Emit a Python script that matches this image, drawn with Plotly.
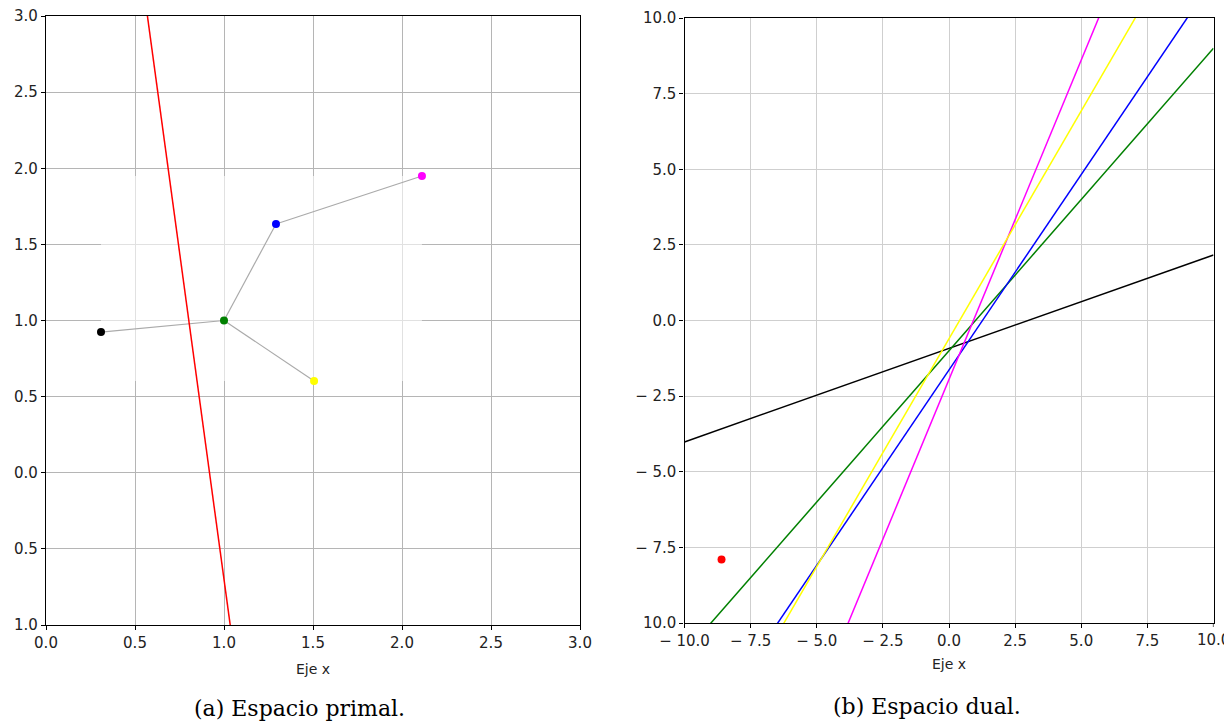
import plotly.graph_objects as go

# ---- data ----
point_names = ["black", "green", "blue", "magenta", "yellow"]
point_x = [0.309, 1.0, 1.292, 2.112, 1.506]
point_y = [0.924, 1.0, 1.634, 1.949, 0.603]
point_colors = ["black", "green", "blue", "magenta", "yellow"]
edges = [(0, 1), (1, 2), (2, 3), (1, 4)]

red_dual_x = [-8.6]
red_dual_y = [-7.9]

primal_line_x = [0.0, 3.0]
dual_line_x = [-10.0, 10.0]

left_x_ticks = [0.0, 0.5, 1.0, 1.5, 2.0, 2.5, 3.0]
left_x_text = ["0.0", "0.5", "1.0", "1.5", "2.0", "2.5", "3.0"]
left_y_ticks = [3.0, 2.5, 2.0, 1.5, 1.0, 0.5, 0.0, -0.5, -1.0]
left_y_text = ["3.0", "2.5", "2.0", "1.5", "1.0", "0.5", "0.0", "0.5", "1.0"]
right_x_ticks = [-10, -7.5, -5, -2.5, 0, 2.5, 5, 7.5, 10]
right_x_text = ["\u2212 10.0", "\u2212 7.5", "\u2212 5.0", "\u2212 2.5", "0.0", "2.5", "5.0", "7.5", "10.0"]
right_y_ticks = [10, 7.5, 5, 2.5, 0, -2.5, -5, -7.5, -10]
right_y_text = ["10.0", "7.5", "5.0", "2.5", "0.0", "\u2212 2.5", "\u2212 5.0", "\u2212 7.5", "10.0"]

W, H = 1224, 722
fig = go.Figure()

# ---- primal: edges ----
for a, b in edges:
    fig.add_trace(go.Scatter(x=[point_x[a], point_x[b]], y=[point_y[a], point_y[b]],
                             mode="lines", line=dict(color="#aaaaaa", width=1.2),
                             xaxis="x", yaxis="y", showlegend=False, hoverinfo="skip"))
# red line = dual of red point: y = a*x - b
ra, rb = red_dual_x[0], red_dual_y[0]
fig.add_trace(go.Scatter(x=primal_line_x, y=[ra * x - rb for x in primal_line_x],
                         mode="lines", line=dict(color="red", width=1.5),
                         xaxis="x", yaxis="y", showlegend=False))
fig.add_trace(go.Scatter(x=point_x, y=point_y, mode="markers",
                         marker=dict(color=point_colors, size=8),
                         xaxis="x", yaxis="y", showlegend=False))

# ---- dual: lines of points ----
for px, py, c in zip(point_x, point_y, point_colors):
    fig.add_trace(go.Scatter(x=dual_line_x, y=[px * x - py for x in dual_line_x],
                             mode="lines", line=dict(color=c, width=1.5),
                             xaxis="x2", yaxis="y2", showlegend=False))
fig.add_trace(go.Scatter(x=red_dual_x, y=red_dual_y, mode="markers",
                         marker=dict(color="red", size=8),
                         xaxis="x2", yaxis="y2", showlegend=False))

tickfont = dict(family="DejaVu Sans", size=15, color="#222222")
axis_common = dict(showline=True, linecolor="black", linewidth=1.2, mirror=True,
                   ticks="outside", ticklen=4, tickcolor="black", tickfont=tickfont,
                   zeroline=False, showgrid=True, tickmode="array", automargin=False)

fig.update_layout(
    width=W, height=H,
    margin=dict(l=0, r=0, t=0, b=0),
    paper_bgcolor="white", plot_bgcolor="white",
    xaxis=dict(domain=[46 / W, 580 / W], range=[0, 3], anchor="y",
               tickvals=left_x_ticks, ticktext=left_x_text, gridcolor="#b5b5b5",
               title=dict(text="Eje x", font=dict(family="DejaVu Sans", size=14, color="#222222"), standoff=13),
               **axis_common),
    yaxis=dict(domain=[(H - 625) / H, (H - 16) / H], range=[-1, 3], anchor="x",
               tickvals=left_y_ticks, ticktext=left_y_text, gridcolor="#b5b5b5",
               **axis_common),
    xaxis2=dict(domain=[684.5 / W, 1213.5 / W], range=[-10, 10], anchor="y2",
                tickvals=right_x_ticks[:-1], ticktext=right_x_text[:-1], gridcolor="#cfcfcf",
                title=dict(text="Eje x", font=dict(family="DejaVu Sans", size=14, color="#222222"), standoff=10),
                **axis_common),
    yaxis2=dict(domain=[(H - 623) / H, (H - 18) / H], range=[-10, 10], anchor="x2",
                tickvals=right_y_ticks, ticktext=right_y_text, gridcolor="#cfcfcf",
                **axis_common),
)
# last x tick of the dual plot (sits on the page edge and is clipped there)
fig.add_shape(type="line", xref="x2", yref="paper", x0=right_x_ticks[-1], x1=right_x_ticks[-1],
              y0=(H - 623) / H, y1=(H - 627) / H, line=dict(color="black", width=1.2))
fig.add_annotation(text=right_x_text[-1], xref="x2", yref="paper", x=right_x_ticks[-1],
                   y=(H - 629) / H, yanchor="top", xanchor="center", showarrow=False,
                   font=tickfont, captureevents=False)

# faint white veil over the grid around the points (label boxes in the original)
fig.add_shape(type="rect", xref="x", yref="y",
              x0=min(point_x), x1=max(point_x), y0=min(point_y), y1=max(point_y),
              fillcolor="white", opacity=0.6, line=dict(width=0), layer="between")

capfont = dict(family="DejaVu Serif", size=22, color="black")
fig.add_annotation(text="(a) Espacio primal.", x=299 / W, y=(H - 708) / H, xref="paper", yref="paper",
                   showarrow=False, font=capfont, xanchor="center", yanchor="middle")
fig.add_annotation(text="(b) Espacio dual.", x=927 / W, y=(H - 706) / H, xref="paper", yref="paper",
                   showarrow=False, font=capfont, xanchor="center", yanchor="middle")

fig.write_html("out.html")
